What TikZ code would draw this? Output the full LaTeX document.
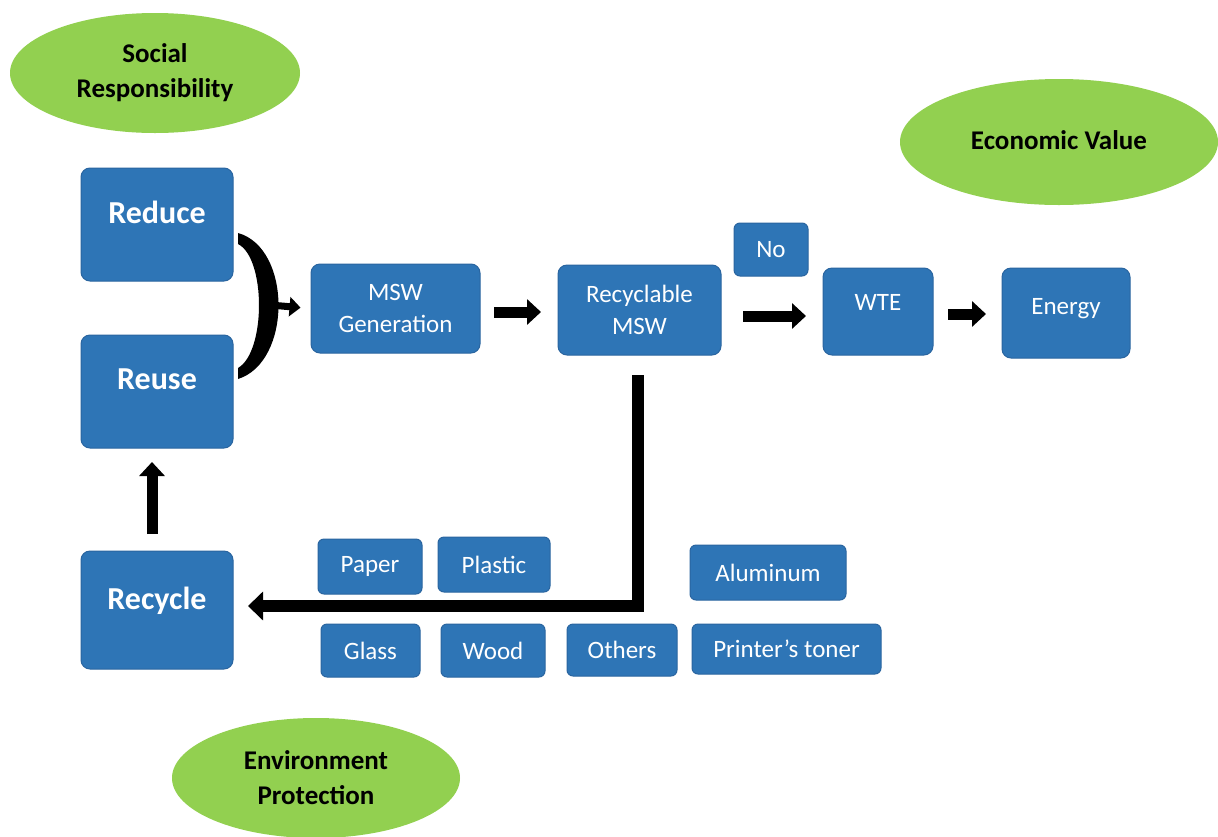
\documentclass[tikz,border=0pt]{standalone}
\usepackage{fontspec}
\setmainfont{Carlito}
\usetikzlibrary{arrows.meta,shapes.geometric}
\definecolor{boxblue}{HTML}{2E75B6}
\definecolor{boxedge}{HTML}{2A65A0}
\definecolor{leaf}{HTML}{92D050}
\begin{document}
\begin{tikzpicture}[x=1pt,y=-1pt,
  blue box/.style={draw=boxedge,line width=1pt,fill=boxblue,rounded corners=9pt,text=white,align=center,inner sep=0pt},
  bigbox/.style={blue box,minimum width=152pt,minimum height=113pt,font=\fontsize{32}{36}\selectfont\bfseries},
  midbox/.style={blue box,font=\fontsize{25}{32}\selectfont},
  tag/.style={blue box,rounded corners=6pt,font=\fontsize{25}{30}\selectfont},
  goal/.style={ellipse,fill=leaf,draw=none,inner sep=0pt,align=center,font=\fontsize{27}{35}\selectfont\bfseries},
  fat/.style={line width=11pt,-{Triangle[width=25pt,length=14pt]}},
]
\useasboundingbox (0,0) rectangle (1218,836);
\fill[white] (0,0) rectangle (1218,836);

% ellipses
\node[goal,minimum width=290pt,minimum height=120pt] (social) at (155,73) {Social\\Responsibility};
\node[goal,minimum width=318pt,minimum height=126pt] (econ) at (1059,142) {\raisebox{3pt}{Economic Value}};
\node[goal,minimum width=288pt,minimum height=120pt] (env) at (316,778) {Environment\\Protection};

% big boxes
\node[bigbox] (reduce) at (157,224.5) {\raisebox{24pt}{Reduce}};
\node[bigbox] (reuse) at (157,391.5) {\raisebox{24pt}{Reuse}};
\node[bigbox,minimum height=118pt] (recycle) at (157,610) {\raisebox{24pt}{Recycle}};

% main flow
\node[midbox,minimum width=169pt,minimum height=89pt] (msw) at (395.5,308.5) {MSW\\Generation};
\node[midbox,minimum width=163pt,minimum height=90pt] (rmsw) at (639.5,310) {Recyclable\\MSW};
\node[midbox,rounded corners=6pt,minimum width=74pt,minimum height=53pt] (no) at (771,249.5) {No};
\node[midbox,minimum width=110pt,minimum height=87pt] (wte) at (878,311.5) {\raisebox{19pt}{WTE}};
\node[midbox,minimum width=128pt,minimum height=90pt] (energy) at (1066,313) {\raisebox{13pt}{Energy}};

% material tags
\node[tag,minimum width=104pt,minimum height=55pt] (paper) at (370,566.5) {Paper};
\node[tag,minimum width=112pt,minimum height=55pt] (plastic) at (494,564.5) {Plastic};
\node[tag,minimum width=156pt,minimum height=55pt] (alu) at (768,572.5) {Aluminum};
\node[tag,minimum width=99pt,minimum height=53pt] (glass) at (370.5,650.5) {Glass};
\node[tag,minimum width=104pt,minimum height=53pt] (wood) at (493,650.5) {Wood};
\node[tag,minimum width=110pt,minimum height=52pt] (others) at (622,650) {Others};
\node[tag,minimum width=189pt,minimum height=50pt] (toner) at (786.5,649) {Printer’s toner};

% brace joining Reduce and Reuse
\coordinate (bracetip) at (270,305);
\fill[black] (238,233) .. controls (292,248) and (292,362) .. (238,379)
  -- (238,368) .. controls (266,352) and (266,258) .. (238,244) -- cycle;
\draw[line width=7pt,-{Triangle[width=19pt,length=11pt]},shorten >=10pt] (bracetip) -- (msw.west);

% arrows
\coordinate (a1s) at (494,312); \coordinate (a1e) at (541,312);
\draw[fat] (a1s) -- (a1e);
\coordinate (a2s) at (743,316); \coordinate (a2e) at (806,316);
\draw[fat] (a2s) -- (a2e);
\coordinate (a3s) at (948,314); \coordinate (a3e) at (986,314);
\draw[fat] (a3s) -- (a3e);
\coordinate (a4s) at (152,534); \coordinate (a4e) at (152,462);
\draw[fat] (a4s) -- (a4e);

% recyclable stream back to Recycle
\coordinate (down) at (638,375);
\coordinate (corner) at (638,606);
\coordinate (back) at (248,606);
\draw[line width=12pt,line join=miter,-{Triangle[width=28pt,length=15pt]}] (down) -- (corner) -- (back);
\end{tikzpicture}
\end{document}
